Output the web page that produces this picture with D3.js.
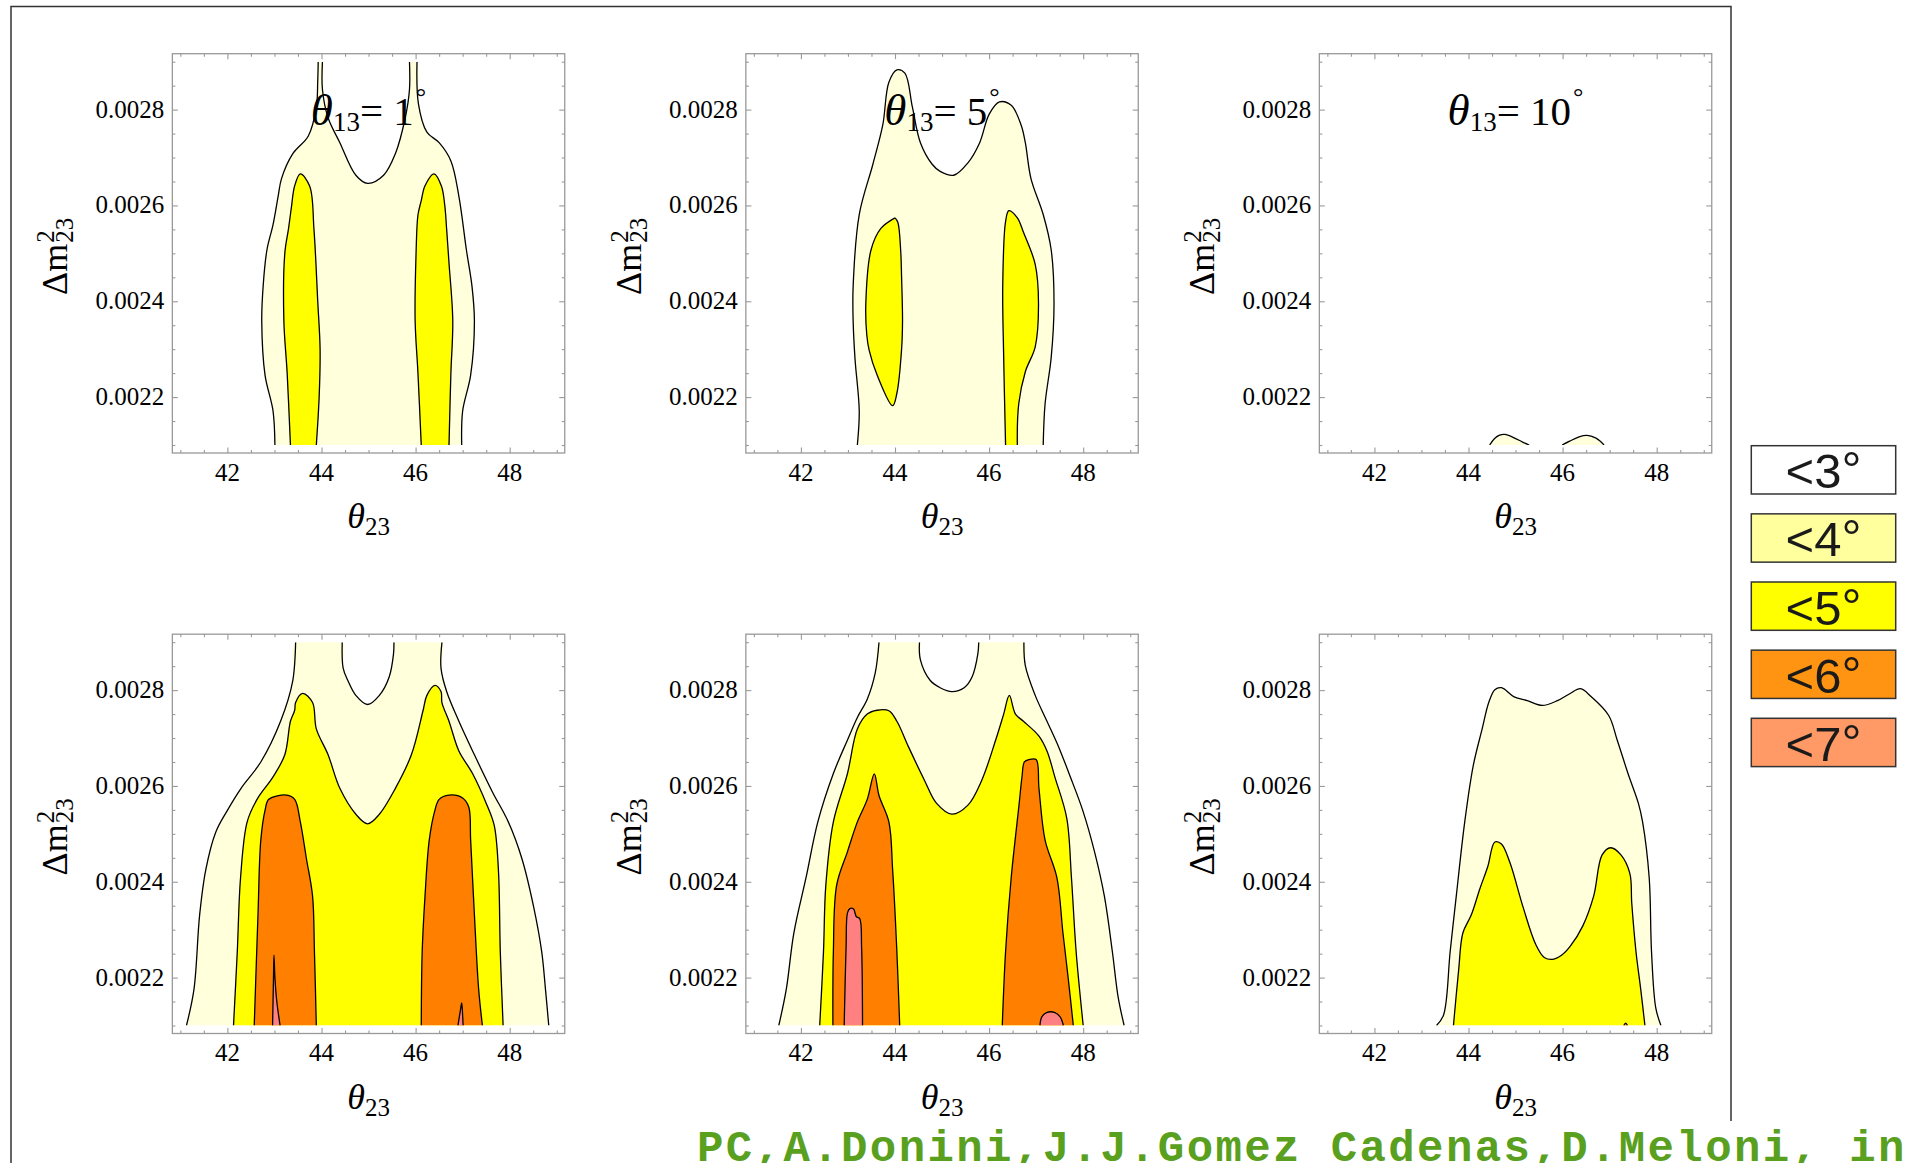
<!DOCTYPE html>
<html>
<head>
<meta charset="utf-8">
<title>theta23 - dm23 contours</title>
<script src="https://d3js.org/d3.v7.min.js"></script>
<style>
  body { margin: 0; background: #fff; }
  .frame { fill: none; stroke: #999; stroke-width: 1.3px; }
  .contour { fill: none; stroke: #000; stroke-width: 1.3px; }
  .serif { font-family: "Liberation Serif", "Times New Roman", serif; fill: #000; }
  .legend rect { stroke: #333; stroke-width: 1.5px; }
  .legend text { font-family: "Liberation Sans", Arial, sans-serif; font-size: 49px; fill: #1a1a1a; }
  .credit { font-family: "Liberation Mono", "Courier New", monospace; font-weight: bold; font-size: 44px; letter-spacing: 2.4px; fill: #5aa01f; }
</style>
</head>
<body>
<svg width="1912" height="1163"></svg>
<script>
// axis ticks and labels
const xTicks = [42, 44, 46, 48];
const yTicks = [0.0022, 0.0024, 0.0026, 0.0028];
const yTickLabels = ["0.0022", "0.0024", "0.0026", "0.0028"];
const titles = ["1", "5", "10"];

// legend
const legendLabels = ["<3", "<4", "<5", "<6", "<7"];
const legendColors = ["#ffffff", "#ffff9e", "#ffff00", "#ff9412", "#ff9966"];
// fill of the <4, <5, <6, <7 regions inside the plots
const levelColors = ["#ffffdc", "#ffff00", "#ff8000", "#ff8080"];

// contour curves, [theta23, dm23 in 1e-3 eV^2]
// theta13 = 1
const p1PaleL = [[43.01,2.1],[42.97,2.171],[42.8,2.246],[42.73,2.358],[42.76,2.432],[42.84,2.507],[42.97,2.56],[43.08,2.62],[43.15,2.656],[43.39,2.708],[43.72,2.745],[43.89,2.805],[43.92,2.86],[43.93,2.9]];
const p1PaleU = [[44.02,2.9],[44.02,2.842],[44.14,2.783],[44.39,2.731],[44.73,2.663],[44.98,2.646],[45.32,2.663],[45.57,2.708],[45.78,2.783],[45.87,2.842],[45.87,2.9]];
const p1PaleR = [[46.03,2.9],[46.06,2.812],[46.24,2.753],[46.5,2.731],[46.75,2.693],[46.92,2.619],[47.08,2.507],[47.2,2.43],[47.25,2.358],[47.17,2.246],[47.0,2.171],[46.98,2.1]];
const p1YellowL = [[43.34,2.1],[43.27,2.25],[43.2,2.36],[43.22,2.5],[43.3,2.552],[43.36,2.596],[43.43,2.641],[43.55,2.666],[43.75,2.64],[43.84,2.55],[43.92,2.4],[43.97,2.3],[43.95,2.2],[43.89,2.1]];
const p1YellowR = [[46.12,2.1],[46.05,2.25],[45.99,2.36],[46.01,2.5],[46.05,2.58],[46.12,2.61],[46.2,2.641],[46.39,2.666],[46.55,2.64],[46.62,2.6],[46.66,2.55],[46.71,2.48],[46.79,2.36],[46.75,2.25],[46.71,2.1]];
// theta13 = 5
const p2Pale = [[43.2,2.1],[43.24,2.171],[43.15,2.28],[43.11,2.36],[43.11,2.43],[43.24,2.581],[43.53,2.686],[43.74,2.768],[43.87,2.857],[44.04,2.883],[44.21,2.876],[44.37,2.805],[44.54,2.731],[44.79,2.686],[44.96,2.671],[45.25,2.663],[45.55,2.689],[45.8,2.731],[46.0,2.79],[46.22,2.816],[46.47,2.809],[46.68,2.768],[46.77,2.731],[46.89,2.656],[47.15,2.581],[47.32,2.507],[47.38,2.395],[47.32,2.283],[47.19,2.186],[47.15,2.1]];
const p2YellowL = [[44.0,2.574],[43.7,2.552],[43.49,2.507],[43.38,2.395],[43.4,2.33],[43.45,2.298],[43.62,2.246],[43.95,2.182],[44.04,2.208],[44.14,2.3],[44.16,2.358],[44.14,2.45],[44.12,2.507],[44.06,2.565],[44.0,2.574]];
const p2YellowR = [[46.35,2.1],[46.31,2.283],[46.29,2.432],[46.35,2.566],[46.42,2.589],[46.6,2.574],[46.73,2.544],[46.98,2.477],[47.05,2.395],[46.98,2.305],[46.77,2.253],[46.63,2.186],[46.6,2.1]];
// theta13 = 10
const p3PaleL = [[44.45,2.1],[44.55,2.113],[44.65,2.12],[44.77,2.122],[44.97,2.115],[45.15,2.106],[45.29,2.1]];
const p3PaleR = [[45.99,2.1],[46.15,2.108],[46.35,2.117],[46.52,2.12],[46.7,2.115],[46.8,2.108],[46.88,2.1]];
// bottom row, left
const p4PaleL = [[41.13,2.1],[41.29,2.176],[41.41,2.331],[41.54,2.425],[41.75,2.503],[42.0,2.549],[42.29,2.595],[42.71,2.65],[43.13,2.735],[43.39,2.82],[43.45,2.9]];
const p4PaleU = [[44.44,2.9],[44.46,2.846],[44.56,2.82],[44.73,2.789],[44.98,2.77],[45.23,2.789],[45.44,2.828],[45.53,2.875],[45.54,2.9]];
const p4PaleR = [[46.56,2.9],[46.54,2.846],[46.66,2.797],[46.92,2.735],[47.25,2.665],[47.63,2.588],[47.97,2.525],[48.26,2.448],[48.51,2.347],[48.68,2.254],[48.76,2.176],[48.83,2.1]];
const p4Yellow = [[42.13,2.1],[42.21,2.254],[42.28,2.409],[42.42,2.525],[42.63,2.572],[42.97,2.619],[43.22,2.665],[43.34,2.735],[43.43,2.758],[43.45,2.774],[43.6,2.793],[43.81,2.774],[43.89,2.719],[44.14,2.665],[44.39,2.595],[44.73,2.541],[44.98,2.521],[45.23,2.541],[45.57,2.595],[45.91,2.665],[46.16,2.758],[46.24,2.789],[46.41,2.81],[46.54,2.797],[46.56,2.774],[46.71,2.735],[46.92,2.673],[47.21,2.626],[47.5,2.564],[47.67,2.518],[47.76,2.425],[47.8,2.254],[47.86,2.1]];
const p4OrangeL = [[42.57,2.1],[42.65,2.331],[42.71,2.487],[42.8,2.549],[42.88,2.572],[43.26,2.581],[43.43,2.572],[43.55,2.525],[43.68,2.448],[43.81,2.37],[43.85,2.254],[43.89,2.1]];
const p4OrangeR = [[46.12,2.1],[46.14,2.254],[46.2,2.37],[46.29,2.487],[46.41,2.549],[46.5,2.572],[46.71,2.581],[47.0,2.575],[47.13,2.556],[47.17,2.487],[47.25,2.331],[47.34,2.176],[47.42,2.1]];
const p4PinkL = [[42.96,2.1],[42.98,2.2],[42.99,2.247],[43.01,2.2],[43.05,2.15],[43.12,2.1]];
const p4PinkR = [[46.9,2.1],[46.95,2.13],[46.98,2.147],[47.0,2.12],[47.01,2.1]];
// bottom row, middle
const p5PaleL = [[41.53,2.1],[41.69,2.176],[41.85,2.293],[42.11,2.409],[42.36,2.525],[42.69,2.626],[42.99,2.696],[43.2,2.743],[43.41,2.781],[43.58,2.836],[43.66,2.9]];
const p5PaleU = [[44.52,2.9],[44.54,2.863],[44.75,2.82],[44.96,2.805],[45.21,2.797],[45.47,2.805],[45.64,2.828],[45.76,2.875],[45.78,2.9]];
const p5PaleR = [[46.74,2.9],[46.77,2.851],[46.98,2.789],[47.23,2.735],[47.48,2.681],[47.73,2.618],[47.99,2.549],[48.24,2.463],[48.45,2.37],[48.62,2.254],[48.74,2.161],[48.87,2.1]];
const p5Yellow = [[42.4,2.1],[42.48,2.254],[42.53,2.393],[42.69,2.525],[42.99,2.626],[43.2,2.719],[43.41,2.75],[43.62,2.758],[43.87,2.757],[44.04,2.735],[44.29,2.681],[44.63,2.611],[44.88,2.564],[45.21,2.541],[45.55,2.56],[45.84,2.611],[46.14,2.696],[46.31,2.75],[46.43,2.789],[46.56,2.75],[46.73,2.735],[47.06,2.704],[47.23,2.673],[47.4,2.618],[47.65,2.533],[47.75,2.409],[47.85,2.254],[48.0,2.1]];
const p5OrangeL = [[42.68,2.1],[42.69,2.254],[42.76,2.393],[42.99,2.463],[43.2,2.525],[43.41,2.572],[43.56,2.625],[43.66,2.58],[43.87,2.525],[43.95,2.425],[44.04,2.254],[44.1,2.1]];
const p5OrangeR = [[46.28,2.1],[46.35,2.254],[46.47,2.409],[46.64,2.564],[46.7,2.62],[46.75,2.65],[46.85,2.655],[47.0,2.655],[47.06,2.595],[47.19,2.487],[47.44,2.409],[47.57,2.293],[47.68,2.2],[47.79,2.1]];
const p5PinkL = [[42.92,2.1],[42.96,2.264],[42.99,2.335],[43.04,2.344],[43.12,2.343],[43.15,2.335],[43.18,2.327],[43.25,2.323],[43.29,2.264],[43.31,2.1]];
const p5PinkR = [[47.08,2.1],[47.12,2.118],[47.22,2.127],[47.4,2.127],[47.51,2.118],[47.58,2.1]];
// bottom row, right
const p6Pale = [[43.32,2.1],[43.47,2.122],[43.61,2.254],[43.74,2.37],[43.92,2.525],[44.1,2.642],[44.29,2.719],[44.43,2.774],[44.56,2.801],[44.7,2.805],[44.97,2.786],[45.25,2.778],[45.57,2.768],[45.89,2.778],[46.16,2.793],[46.38,2.803],[46.61,2.786],[46.98,2.747],[47.16,2.696],[47.39,2.626],[47.61,2.564],[47.7,2.525],[47.84,2.409],[47.89,2.254],[47.98,2.137],[48.09,2.1]];
const p6Yellow = [[43.68,2.1],[43.79,2.215],[43.88,2.293],[44.06,2.331],[44.24,2.385],[44.41,2.432],[44.56,2.483],[44.7,2.479],[44.88,2.44],[45.16,2.347],[45.43,2.269],[45.61,2.242],[45.79,2.238],[45.97,2.246],[46.16,2.265],[46.43,2.308],[46.66,2.37],[46.84,2.456],[47.02,2.471],[47.24,2.456],[47.43,2.417],[47.47,2.355],[47.56,2.254],[47.66,2.176],[47.75,2.1]];
const p6Orange = [[47.3,2.1],[47.34,2.105],[47.38,2.1]];

// level index -> list of contour segments (one filled region)
const panels = [
  {col: 0, row: 0, title: titles[0], regions: [[0, [p1PaleL, p1PaleU, p1PaleR]], [1, [p1YellowL]], [1, [p1YellowR]]]},
  {col: 1, row: 0, title: titles[1], regions: [[0, [p2Pale]], [1, [p2YellowL]], [1, [p2YellowR]]]},
  {col: 2, row: 0, title: titles[2], regions: [[0, [p3PaleL]], [0, [p3PaleR]]]},
  {col: 0, row: 1, title: null, regions: [[0, [p4PaleL, p4PaleU, p4PaleR]], [1, [p4Yellow]], [2, [p4OrangeL]], [2, [p4OrangeR]], [3, [p4PinkL]], [3, [p4PinkR]]]},
  {col: 1, row: 1, title: null, regions: [[0, [p5PaleL, p5PaleU, p5PaleR]], [1, [p5Yellow]], [2, [p5OrangeL]], [2, [p5OrangeR]], [3, [p5PinkL]], [3, [p5PinkR]]]},
  {col: 2, row: 1, title: null, regions: [[0, [p6Pale]], [1, [p6Yellow]], [2, [p6Orange]]]}
];

const svg = d3.select("svg");
const innerWidth = 376.4;
const innerHeight = 383.3;
const pad = 8;
const colX = [180.35, 753.85, 1327.35];
const rowY = [61.7, 642.2];

const xScale = d3.scaleLinear().domain([41, 49]).range([0, innerWidth]);
const yScale = d3.scaleLinear().domain([0.0021, 0.0029]).range([innerHeight, 0]);
const line = d3.line()
  .x(d => xScale(d[0]))
  .y(d => yScale(d[1] * 1e-3))
  .curve(d3.curveCatmullRom.alpha(0.5));

const xMinor = d3.range(82, 99).filter(k => k % 4 !== 0).map(k => k / 2);
const yMinor = d3.range(42, 59).filter(k => k % 4 !== 0).map(k => k * 5e-5);

// outer frame
svg.append("path")
  .attr("d", "M11,1163 L11,6.5 L1731,6.5 L1731,1121")
  .attr("fill", "none").attr("stroke", "#333").attr("stroke-width", 1.5);

function tickOnly(sel) {
  sel.select(".domain").remove();
  sel.selectAll("text").remove();
  sel.attr("color", "#999");
  sel.selectAll("line").attr("stroke-width", 1.1);
}

const plots = svg.append("g").attr("class", "plots");
const texts = svg.append("g").attr("class", "labels");

panels.forEach((p, i) => {
  const ox = colX[p.col], oy = rowY[p.row];
  const g = plots.append("g").attr("transform", `translate(${ox}, ${oy})`);

  g.append("clipPath").attr("id", "clip" + i)
    .append("rect").attr("width", innerWidth).attr("height", innerHeight);
  const plot = g.append("g").attr("clip-path", `url(#clip${i})`);

  p.regions.forEach(([level, segs]) => {
    plot.append("path")
      .attr("d", line(segs.flat()) + "Z")
      .attr("fill", levelColors[level]);
    segs.forEach(s => plot.append("path").attr("class", "contour").attr("d", line(s)));
  });

  // frame with ticks pointing inwards on all four sides
  g.append("rect").attr("class", "frame")
    .attr("x", -pad).attr("y", -pad)
    .attr("width", innerWidth + 2 * pad).attr("height", innerHeight + 2 * pad);

  const sides = [
    [d3.axisBottom, `translate(0, ${innerHeight + pad})`, xScale, xTicks, xMinor],
    [d3.axisTop, `translate(0, ${-pad})`, xScale, xTicks, xMinor],
    [d3.axisLeft, `translate(${-pad}, 0)`, yScale, yTicks, yMinor],
    [d3.axisRight, `translate(${innerWidth + pad}, 0)`, yScale, yTicks, yMinor]
  ];
  sides.forEach(([axisFn, tr, scale, major, minor]) => {
    g.append("g").attr("transform", tr)
      .call(axisFn(scale).tickValues(minor).tickSize(-3)).call(tickOnly);
    g.append("g").attr("transform", tr)
      .call(axisFn(scale).tickValues(major).tickSizeInner(-5.5).tickSizeOuter(0)).call(tickOnly);
  });

  // tick labels
  xTicks.forEach(v => {
    texts.append("text").attr("class", "serif").attr("font-size", 25)
      .attr("text-anchor", "middle")
      .attr("x", ox + xScale(v)).attr("y", oy + innerHeight + pad + 27.5)
      .text(v);
  });
  yTicks.forEach((v, j) => {
    texts.append("text").attr("class", "serif").attr("font-size", 25)
      .attr("text-anchor", "end")
      .attr("x", ox - pad - 8).attr("y", oy + yScale(v) + 8)
      .text(yTickLabels[j]);
  });

  // x label
  const xl = texts.append("text").attr("class", "serif")
    .attr("x", ox + innerWidth / 2).attr("y", oy + innerHeight + pad + 75)
    .attr("text-anchor", "middle").attr("font-size", 36);
  xl.append("tspan").attr("font-style", "italic").text("θ");
  xl.append("tspan").attr("font-size", 25).attr("dy", 7).text("23");

  // y label, rotated, with stacked super- and subscript
  const cx = ox - 113, cy = oy + innerHeight / 2 + 3;
  const yt = texts.append("text").attr("class", "serif").attr("font-size", 36);
  const base = yt.append("tspan").text("Δm");
  const w = base.node().getComputedTextLength();
  const sup = yt.append("tspan").attr("font-size", 25).text("2");
  const sub = yt.append("tspan").attr("font-size", 25).text("23");
  const x0 = -(w + 1 + sub.node().getComputedTextLength()) / 2;
  base.attr("x", x0).attr("y", 0);
  sup.attr("x", x0 + w + 1).attr("y", -13);
  sub.attr("x", x0 + w + 1).attr("y", 6);
  yt.attr("transform", `translate(${cx}, ${cy}) rotate(-90)`);

  // title
  if (p.title) {
    const t = texts.append("text").attr("class", "serif")
      .attr("x", ox + innerWidth / 2).attr("y", 125)
      .attr("text-anchor", "middle").attr("font-size", 41);
    t.append("tspan").attr("font-style", "italic").attr("font-size", 45).text("θ");
    t.append("tspan").attr("font-size", 27).attr("dy", 6).text("13");
    t.append("tspan").attr("dy", -6).text("= " + p.title);
    t.append("tspan").attr("font-size", 26).attr("dy", -20).attr("dx", 2).text("°");
  }
});

// legend
const legend = svg.append("g").attr("class", "legend");
legendLabels.forEach((lab, i) => {
  const top = 445.7 + i * 68.15;
  legend.append("rect")
    .attr("x", 1751.3).attr("y", top).attr("width", 144.4).attr("height", 48.3)
    .attr("fill", legendColors[i]);
  const t = legend.append("text").attr("x", 1823.5).attr("y", top + 42.5)
    .attr("text-anchor", "middle");
  t.append("tspan").text(lab);
  t.append("tspan").attr("font-size", 50).attr("dy", -1).text("°");
});

// credit line
svg.append("rect").attr("x", 690).attr("y", 1122).attr("width", 1222).attr("height", 41).attr("fill", "#fff");
svg.append("text").attr("class", "credit").attr("x", 697).attr("y", 1161)
  .text("PC,A.Donini,J.J.Gomez Cadenas,D.Meloni, in");
</script>
</body>
</html>
